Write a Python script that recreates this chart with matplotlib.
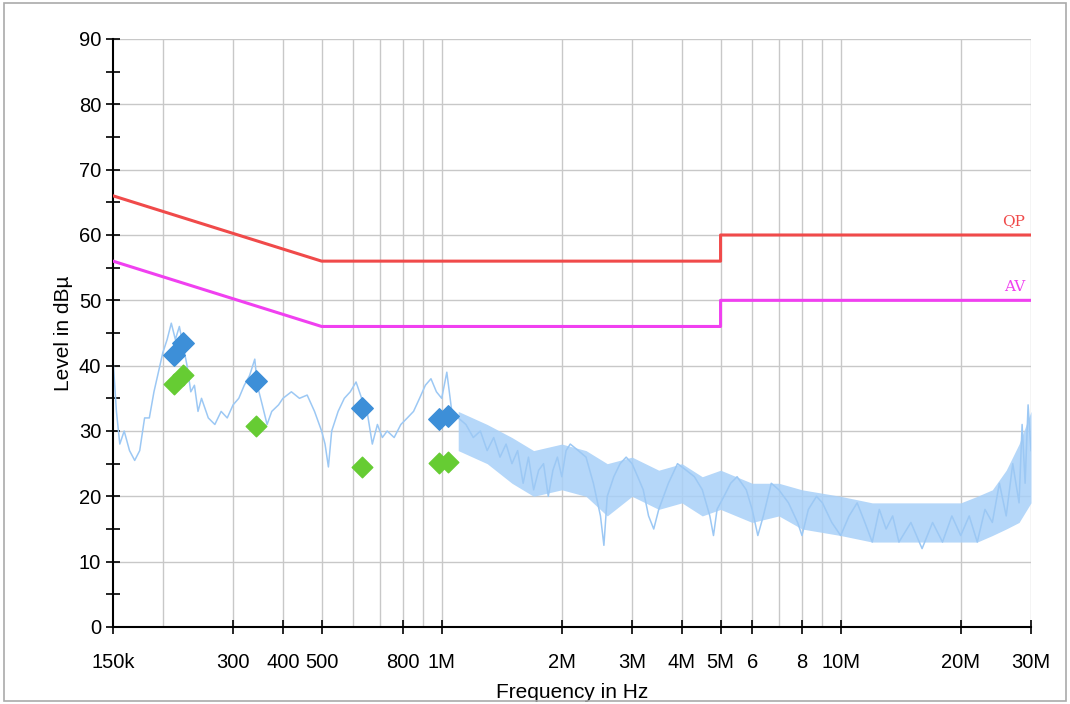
import matplotlib
matplotlib.use("Agg")
import matplotlib.pyplot as plt
from matplotlib.patches import Rectangle

plt.rcParams['font.family'] = ['Liberation Sans', 'DejaVu Sans']

spec_f = [0.150,0.153,0.156,0.160,0.165,0.170,0.175,0.180,0.185,0.190,0.195,0.200,0.205,0.210,0.215,0.220,0.225,0.230,0.235,0.240,0.245,0.250,0.260,0.270,0.280,0.290,0.300,0.310,0.320,0.330,0.340,0.345,0.355,0.365,0.375,0.390,0.400,0.420,0.440,0.460,0.480,0.500,0.510,0.520,0.530,0.550,0.570,0.590,0.610,0.630,0.650,0.670,0.690,0.710,0.730,0.760,0.790,0.820,0.850,0.880,0.910,0.940,0.970,1.00,1.03,1.06,1.10,1.15,1.20,1.25,1.30,1.35,1.40,1.45,1.50,1.55,1.60,1.65,1.70,1.75,1.80,1.85,1.90,1.95,2.0,2.05,2.1,2.2,2.3,2.4,2.5,2.55,2.6,2.7,2.8,2.9,3.0,3.1,3.2,3.3,3.4,3.5,3.7,3.9,4.1,4.3,4.5,4.7,4.8,4.9,5.1,5.3,5.5,5.8,6.0,6.2,6.4,6.7,7.0,7.4,7.8,8.0,8.3,8.7,9.0,9.5,10,10.5,11,11.5,12,12.5,13,13.5,14,15,16,17,18,19,20,21,22,23,24,25,26,27,28,28.5,29,29.5,30]
spec_v = [41,33,28,30,27,25.5,27,32,32,36,39,42,44,46.5,44,46,43,40,36,37,33,35,32,31,33,32,34,35,37,38.5,41,37,34,31,33,34,35,36,35,35.5,33,30,28,24.5,30,33,35,36,37.5,35,33,28,31,29,30,29,31,32,33,35,37,38,36,35,39,33,32,31,29,30,27,29,26,28,25,27,22,26,21,24,25,20,24,26,23,27,28,27,26,22,17,12.5,20,23,25,26,25,23,21,17,15,18,22,25,24,23,21,17,14,18,20,22,23,21,18,14,17,22,21,19,16,14,18,20,19,16,14,17,19,16,13,18,15,17,13,16,12,16,13,17,14,17,13,18,16,22,17,25,19,31,22,34,27]

# noisy band envelope above 1 MHz
band_f  = [1.1,1.3,1.5,1.7,2.0,2.3,2.6,3.0,3.5,4.0,4.5,5.0,6.0,7.0,8.0,10,12,15,18,20,22,24,26,28,30]
band_lo = [27,25,22,20,21,20,17,20,18,19,17,18,16,17,15,14,13,13,13,13,13,14,15,16,19]
band_hi = [33,31,29,27,28,27,25,26,24,25,23,24,22,22,21,20,19,19,19,19,20,21,24,28,33]

qp_f = [0.15, 0.5, 5.0, 5.0, 30.0]
qp_v = [66, 56, 56, 60, 60]
av_f = [0.15, 0.5, 5.0, 5.0, 30.0]
av_v = [56, 46, 46, 50, 50]

mk_f = [0.213, 0.225, 0.342, 0.63, 0.983, 1.04]
mk_qp = [41.7, 43.4, 37.7, 33.5, 31.8, 32.3]
mk_av = [37.2, 38.5, 30.8, 24.5, 25.1, 25.3]

tick_f = [0.15,0.3,0.4,0.5,0.8,1,2,3,4,5,6,8,10,20,30]
tick_l = ["150k","300","400","500","800","1M","2M","3M","4M","5M","6","8","10M","20M","30M"]
grid_f = [0.2,0.3,0.4,0.5,0.6,0.7,0.8,0.9,1,2,3,4,5,6,7,8,9,10,20,30]

fig = plt.figure(figsize=(10.70, 7.04), dpi=100)
fig.patches.append(Rectangle((0.004, 0.004), 0.992, 0.992, transform=fig.transFigure,
                             fill=False, edgecolor="#aaaaaa", lw=1.2))
ax = fig.add_axes([113/1070, 1-627/704, 918/1070, 588/704])
ax.set_xscale("log")
ax.set_xlim(0.15, 30)
ax.set_ylim(0, 90)
for g in grid_f:
    ax.axvline(g, color="#c8c8c8", lw=1, zorder=0)
for y in range(10, 91, 10):
    ax.axhline(y, color="#c8c8c8", lw=1, zorder=0)

ax.fill_between(band_f, band_lo, band_hi, color="#a8d0f8", alpha=0.85, lw=0, zorder=1)
ax.plot(spec_f, spec_v, color="#9cc8f4", lw=1.1, zorder=2)
ax.plot(qp_f, qp_v, color="#f04a4a", lw=2.2, zorder=3)
ax.plot(av_f, av_v, color="#f040f0", lw=2.2, zorder=3)
ax.scatter(mk_f, mk_qp, marker="D", s=120, color="#3d8fd8", zorder=4)
ax.scatter(mk_f, mk_av, marker="D", s=110, color="#66cc33", zorder=4)
ax.text(29, 61, "QP", color="#f04a4a", ha="right", va="bottom", family="DejaVu Serif", fontsize=11)
ax.text(29, 51, "AV", color="#f040f0", ha="right", va="bottom", family="DejaVu Serif", fontsize=11)

ax.set_xticks(tick_f)
ax.set_xticklabels(tick_l, fontsize=14.5)
ax.xaxis.set_minor_locator(matplotlib.ticker.NullLocator())
ax.set_yticks(range(0, 91, 10))
ax.set_yticks(range(5, 90, 10), minor=True)
ax.tick_params(axis="y", labelsize=14.5, direction="inout", length=10, width=1.2)
ax.tick_params(axis="y", which="minor", direction="inout", length=10, width=1.2)
ax.tick_params(axis="x", direction="inout", length=10, width=1.2, pad=14)
for s in ["top", "right"]:
    ax.spines[s].set_visible(False)
ax.spines["left"].set_linewidth(1.5)
ax.spines["bottom"].set_linewidth(1.5)
ax.set_xlabel("Frequency in Hz", fontsize=15, labelpad=8)
ax.set_ylabel("Level in dBµ", fontsize=15)
fig.savefig("out.png", dpi=100)
